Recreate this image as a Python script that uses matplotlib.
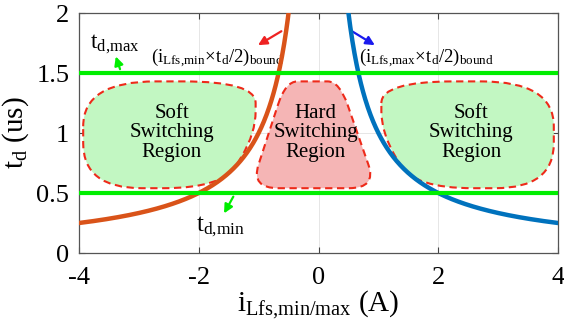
import numpy as np
import matplotlib
matplotlib.use("Agg")
import matplotlib.pyplot as plt
from matplotlib.path import Path
from matplotlib.patches import PathPatch

plt.rcParams['font.family'] = ['Liberation Serif', 'DejaVu Serif']
plt.rcParams['mathtext.fontset'] = 'custom'
plt.rcParams['mathtext.rm'] = 'Liberation Serif'
plt.rcParams['mathtext.it'] = 'Liberation Serif:italic'

# Data
product = 1.0                      # iLfs * td/2 bound (A*us)
td_min = 0.5
td_max = 1.5
x_ticks = [-4, -2, 0, 2, 4]
y_ticks = [0, 0.5, 1, 1.5, 2]
x_ticks_labels = ['-4', '-2', '0', '2', '4']
y_ticks_labels = ['0', '0.5', '1', '1.5', '2']

# Region outlines (corner points, data units)
soft_left = [(-3.93, 1.43), (-1.05, 1.43), (-1.05, 1.0), (-1.6, 0.54), (-3.93, 0.54)]
hard_mid = [(-0.55, 1.43), (0.35, 1.43), (0.97, 0.54), (-1.13, 0.54)]
soft_right = [(1.05, 1.43), (3.93, 1.43), (3.93, 0.54), (1.6, 0.54), (1.05, 1.0)]

fig = plt.figure(figsize=(5.64, 3.23), dpi=100)
ax = fig.add_axes([79/564, 1-253/323, (558-79)/564, (253-13)/323])

def rounded_path(pts, frac=0.35):
    n = len(pts)
    pts = [np.array(p, float) for p in pts]
    verts, codes = [], []
    for i in range(n):
        p = pts[i]
        prev = pts[i-1]
        nxt = pts[(i+1) % n]
        a = p + (prev - p) * frac
        b = p + (nxt - p) * frac
        if i == 0:
            verts.append(a); codes.append(Path.MOVETO)
        else:
            verts.append(a); codes.append(Path.LINETO)
        verts.append(p); codes.append(Path.CURVE3)
        verts.append(b); codes.append(Path.CURVE3)
    verts.append(verts[0]); codes.append(Path.CLOSEPOLY)
    return Path(verts, codes)

for pts, fc, fr in [(soft_left, '#c2f7c2', 0.42), (hard_mid, '#f5b5b5', 0.22), (soft_right, '#c2f7c2', 0.42)]:
    patch = PathPatch(rounded_path(pts, fr), facecolor=fc, edgecolor='#ee2a1a',
                      lw=1.5, ls=(0, (3.5, 2.2)), zorder=2)
    ax.add_patch(patch)

for xc, txt in [(-2.45, 'Soft\nSwitching\nRegion'), (-0.05, 'Hard\nSwitching\nRegion'),
                (2.55, 'Soft\nSwitching\nRegion')]:
    ax.text(xc, 1.0, txt, ha='center', va='center', fontsize=15, linespacing=1.05, zorder=3)

# curves
xl = np.linspace(-4, -0.45, 400)
ax.plot(xl, -product / xl, color='#d95319', lw=3.2, zorder=4)
xr = np.linspace(0.45, 4, 400)
ax.plot(xr, product / xr, color='#0072bd', lw=3.2, zorder=4)

# green limits
ax.axhline(td_max, color='#00ee00', lw=3, zorder=5)
ax.axhline(td_min, color='#00ee00', lw=3, zorder=5)

ax.set_xlim(-4, 4)
ax.set_ylim(0, 2)
ax.set_xticks(x_ticks)
ax.set_xticklabels(x_ticks_labels)
ax.set_yticks(y_ticks)
ax.set_yticklabels(y_ticks_labels)
ax.tick_params(direction='in', top=True, right=True, labelsize=19, length=4, color='#444444', pad=7)
ax.tick_params(axis='x', pad=10)
ax.grid(True, color='#e6e6e6', lw=0.7)
for s in ax.spines.values():
    s.set_color('#555555')
    s.set_linewidth(0.9)

ap = dict(lw=1.6, mutation_scale=13)
# annotations
ax.text(-3.82, 1.74, r'$\mathrm{t}_{\mathrm{d{,}max}}$', fontsize=17, ha='left', va='center')
ax.annotate('', xy=(-3.4, 1.66), xytext=(-3.3, 1.51),
            arrowprops=dict(arrowstyle='-|>', color='#00ee00', **ap))
ax.text(-2.8, 1.63, r'$(\mathrm{i}_{\mathrm{Lfs{,}min}}\!\times\!\mathrm{t}_{\mathrm{d}}/2)_{\mathrm{bound}}$',
        fontsize=13.5, ha='left', va='center')
ax.annotate('', xy=(-1.05, 1.72), xytext=(-0.58, 1.86),
            arrowprops=dict(arrowstyle='-|>', color='#ee2222', **ap))
ax.text(0.68, 1.63, r'$(\mathrm{i}_{\mathrm{Lfs{,}max}}\!\times\!\mathrm{t}_{\mathrm{d}}/2)_{\mathrm{bound}}$',
        fontsize=13.5, ha='left', va='center')
ax.annotate('', xy=(0.98, 1.72), xytext=(0.52, 1.86),
            arrowprops=dict(arrowstyle='-|>', color='#1a1aee', **ap))
ax.text(-2.05, 0.22, r'$\mathrm{t}_{\mathrm{d{,}min}}$', fontsize=18, ha='left', va='center')
ax.annotate('', xy=(-1.6, 0.31), xytext=(-1.4, 0.49),
            arrowprops=dict(arrowstyle='-|>', color='#00ee00', **ap))

ax.set_xlabel(r'$\mathrm{i}_{\mathrm{Lfs{,}min/max}}$ (A)', fontsize=21, labelpad=0)
ax.set_ylabel(r'$\mathrm{t}_{\mathrm{d}}$ (us)', fontsize=21, labelpad=4)

fig.savefig('out.png', dpi=100)
